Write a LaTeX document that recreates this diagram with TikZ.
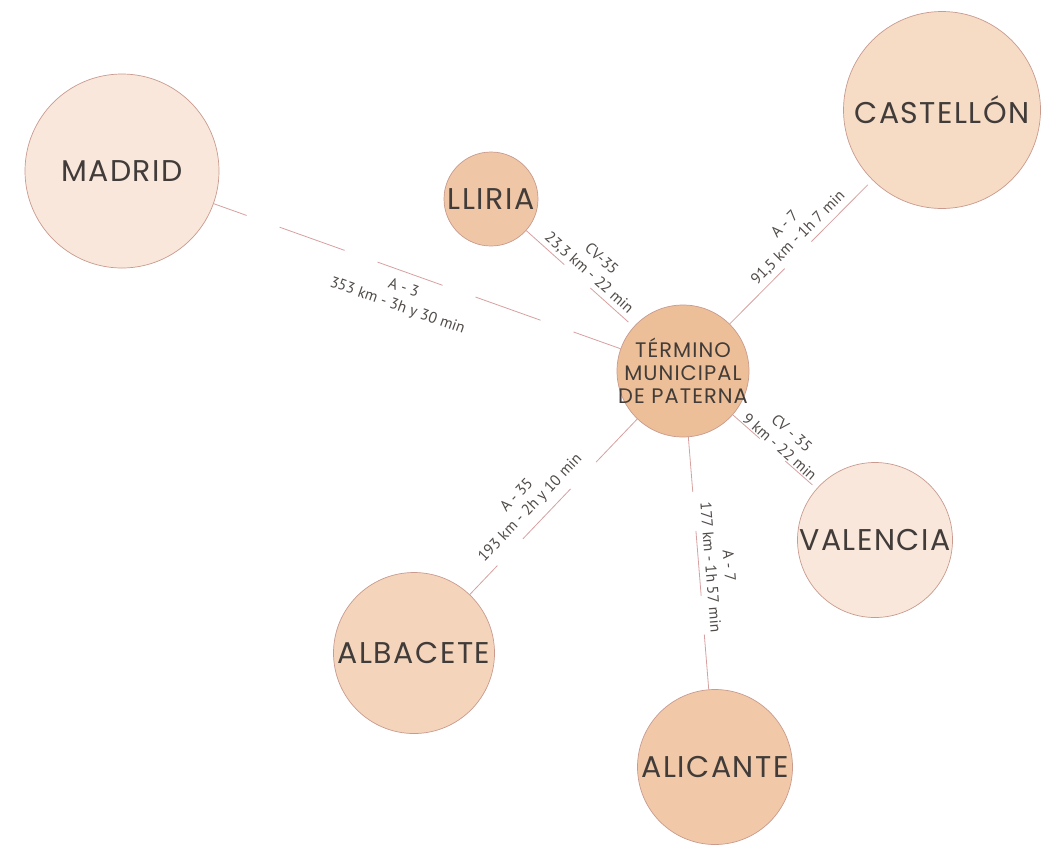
\documentclass[tikz,border=0pt]{standalone}
\usepackage{fontspec}
\setmainfont{PT Sans}
\newfontfamily\cityfont[LetterSpace=5]{Poppins}
\newfontfamily\termfont[LetterSpace=5]{Poppins}
\definecolor{edgec}{HTML}{C99A8E}
\definecolor{roadc}{HTML}{D7A0A0}
\definecolor{textc}{HTML}{413C39}
\definecolor{labc}{HTML}{504B48}
\definecolor{madridc}{HTML}{F9E7DB}
\definecolor{lliriac}{HTML}{F0C7A6}
\definecolor{castc}{HTML}{F6DBC5}
\definecolor{termc}{HTML}{EDBF98}
\definecolor{valc}{HTML}{F9E7DB}
\definecolor{albc}{HTML}{F4D5BC}
\definecolor{alic}{HTML}{F1C9A8}
\tikzset{
  city/.style={circle, draw=edgec, line width=0.7pt, inner sep=-16pt, text=textc,
    font=\cityfont\fontsize{30}{34}\selectfont},
  road/.style={draw=roadc, line width=0.8pt},
  lab/.style={sloped, font=\fontsize{15.5}{18.5}\selectfont, align=center, inner sep=0pt, text=labc}
}
\begin{document}
\begin{tikzpicture}[x=1pt,y=-1pt]
\useasboundingbox (0,0) rectangle (1049,855);
\node[city, fill=madridc, minimum size=194pt] (madrid) at (122,171) {MADRID};
\node[city, fill=lliriac, minimum size=94pt] (lliria) at (491,199) {LLIRIA};
\node[city, fill=castc, minimum size=197pt] (cast) at (942,110) {CASTELLÓN};
\node[city, fill=termc, minimum size=132pt, align=center,
  font=\termfont\fontsize{21}{23}\selectfont] (term) at (683,371) {TÉRMINO\\MUNICIPAL\\DE PATERNA};
\node[city, fill=valc, minimum size=155pt] (val) at (875,540) {VALENCIA};
\node[city, fill=albc, minimum size=161pt] (alb) at (414,653) {ALBACETE};
\node[city, fill=alic, minimum size=155pt] (ali) at (715,767) {ALICANTE};

\draw[road, dash pattern=on 69pt off 35pt, dash phase=34pt] (madrid) --
  node[lab, pos=0.48, below=9pt] {A - 3\\353 km - 3h y 30 min} (term);
\draw[road, dash pattern=on 51pt off 35pt] (lliria) --
  node[lab, pos=0.52, above=3pt] {CV-35\\23,3 km - 22 min} (term);
\draw[road, dash pattern=on 80pt off 38pt, dash phase=2pt] (term) --
  node[lab, pos=0.54, above=5pt] {A - 7\\91,5 km - 1h 7 min} (cast);
\draw[road, dash pattern=on 36pt off 34pt] (term) --
  node[lab, pos=0.505, above=1pt] {CV - 35\\9 km - 22 min} (val);
\draw[road, dash pattern=on 69pt off 37pt, dash phase=29pt] (alb) --
  node[lab, pos=0.43, above=8pt] {A - 35\\193 km - 2h y 10 min} (term);
\draw[road, dash pattern=on 65pt off 39pt, dash phase=10pt] (term) --
  node[lab, pos=0.52, above=6pt] {A - 7\\177 km - 1h 57 min} (ali);
\end{tikzpicture}
\end{document}
